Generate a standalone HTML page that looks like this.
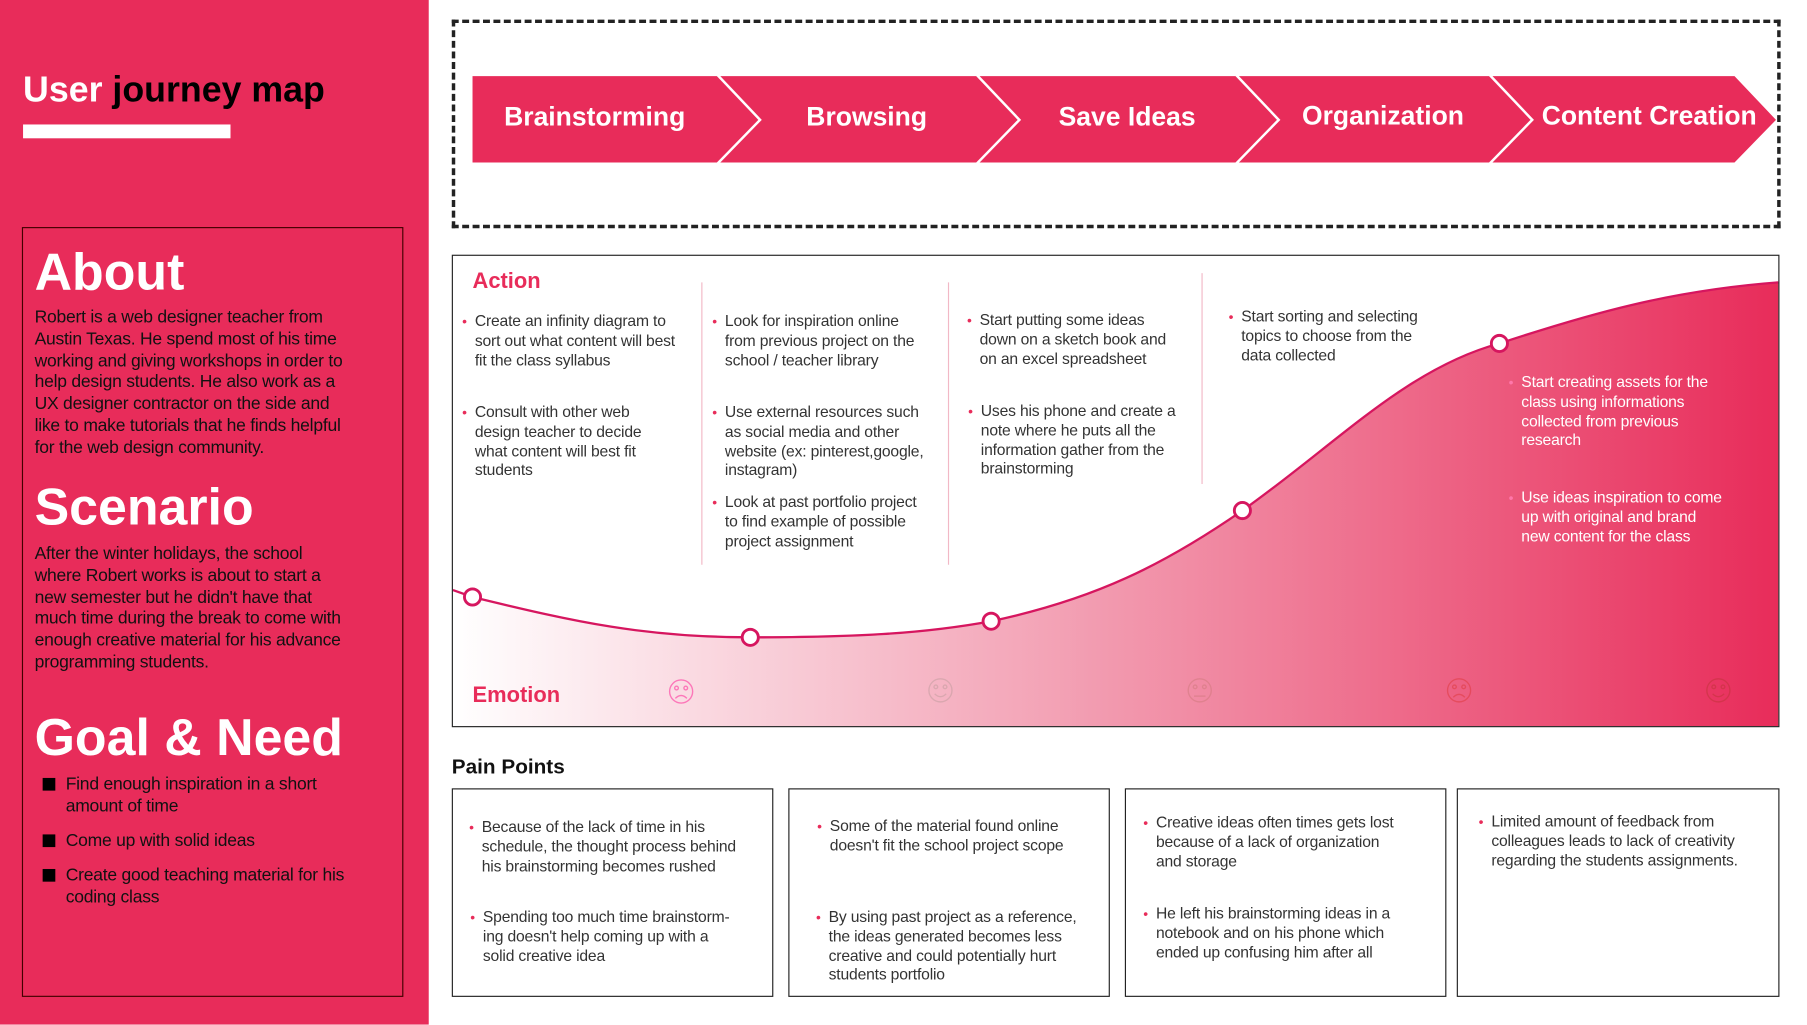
<!DOCTYPE html>
<html><head><meta charset="utf-8"><style>
html,body{margin:0;padding:0;background:#fff;overflow:hidden}
#wrap{position:absolute;left:0;top:0;width:1568px;height:889px;transform:scale(1.1525);transform-origin:0 0;font-family:"Liberation Sans",sans-serif}
.a{position:absolute;white-space:nowrap}
.lp{left:0;top:0;width:372px;height:889px;background:#E82C5A}
.body{font-size:15.2px;line-height:18.8px;color:#111;letter-spacing:-0.2px}
.h{color:#fff;font-weight:bold;font-size:45px;line-height:48px}
.t{font-size:13.6px;line-height:16.8px;color:#333;letter-spacing:-0.15px}
.t .b{position:absolute;left:-11px;color:#E82C5A;font-size:12px}
.box{border:1px solid #222;box-sizing:border-box}
.chev{color:#fff;font-weight:bold;font-size:23px;text-align:center;width:240px}
</style></head><body><div id="wrap">
<div class="a lp"></div>
<div class="a" style="left:20px;top:60px;font-size:31px;font-weight:bold;color:#fff;white-space:nowrap">User <span style="color:#000">journey map</span></div>
<div class="a" style="left:20px;top:108px;width:180px;height:12px;background:#fff"></div>
<div class="a" style="left:19px;top:197px;width:331px;height:668px;border:1px solid #400;box-sizing:border-box"></div>
<div class="a h" style="left:30px;top:212px">About</div>
<div class="a body" style="left:30px;top:267px">Robert is a web designer teacher from<br>Austin Texas. He spend most of his time<br>working and giving workshops in order to<br>help design students. He also work as a<br>UX designer contractor on the side and<br>like to make tutorials that he finds helpful<br>for the web design community.</div>
<div class="a h" style="left:30px;top:416px">Scenario</div>
<div class="a body" style="left:30px;top:472px">After the winter holidays, the school<br>where Robert works is about to start a<br>new semester but he didn't have that<br>much time during the break to come with<br>enough creative material for his advance<br>programming students.</div>
<div class="a h" style="left:30px;top:616px">Goal &amp; Need</div>
<div class="a body" style="left:57px;top:672px">Find enough inspiration in a short<br>amount of time</div>
<div class="a body" style="left:57px;top:721px">Come up with solid ideas</div>
<div class="a body" style="left:57px;top:751px">Create good teaching material for his<br>coding class</div>
<div class="a" style="left:37px;top:675px;width:11px;height:11px;background:#000"></div>
<div class="a" style="left:37px;top:724px;width:11px;height:11px;background:#000"></div>
<div class="a" style="left:37px;top:754px;width:11px;height:11px;background:#000"></div>

<div class="a" style="left:392px;top:17px;width:1153px;height:181px;border:3px dashed #222;box-sizing:border-box"></div>
<svg class="a" style="left:0;top:0" width="1568" height="889">
<g fill="#E82C5A">
<polygon points="410,66 622,66 658,104 622,141 410,141"/>
<polygon points="625,66 847,66 883,104 847,141 625,141 661,104"/>
<polygon points="850,66 1072,66 1108,104 1072,141 850,141 886,104"/>
<polygon points="1075,66 1292,66 1328,104 1292,141 1075,141 1111,104"/>
<polygon points="1295,66 1505,66 1541,104 1505,141 1295,141 1331,104"/>
</g>
<defs><linearGradient id="g" x1="393" y1="0" x2="1543" y2="0" gradientUnits="userSpaceOnUse">
<stop offset="0" stop-color="#fff"/><stop offset="0.45" stop-color="#f3a3b6"/><stop offset="1" stop-color="#E82C5A"/></linearGradient></defs>
<path d="M393,512 L410,518 C500,540 560,553 651,553 C740,553 800,550 860,539 C950,520 1010,490 1078,443 C1160,385 1220,320 1301,298 C1380,272 1450,252 1543,245 L1543,630 L393,630 Z" fill="url(#g)"/>
<path d="M393,512 L410,518 C500,540 560,553 651,553 C740,553 800,550 860,539 C950,520 1010,490 1078,443 C1160,385 1220,320 1301,298 C1380,272 1450,252 1543,245" fill="none" stroke="#d6165f" stroke-width="2"/>
<g fill="#fff" stroke="#d6165f" stroke-width="2.5">
<circle cx="410" cy="518" r="7"/><circle cx="651" cy="553" r="7"/><circle cx="860" cy="539" r="7"/><circle cx="1078" cy="443" r="7"/><circle cx="1301" cy="298" r="7"/></g>
<g stroke="#f2b8c6" stroke-width="1"><line x1="609" y1="245" x2="609" y2="490"/><line x1="823" y1="245" x2="823" y2="490"/><line x1="1043" y1="237" x2="1043" y2="420"/></g>
<g fill="none" stroke-width="1.2" opacity="0.45">
<g stroke="#f08"><circle cx="591" cy="600" r="10"/><circle cx="587" cy="597" r="1.6"/><circle cx="595" cy="597" r="1.6"/><path d="M586,606 Q591,601 596,606"/></g>
<g stroke="#b99"><circle cx="816" cy="599" r="10"/><circle cx="812" cy="596" r="1.6"/><circle cx="820" cy="596" r="1.6"/><path d="M811,602 Q816,607 821,602"/></g>
<g stroke="#c77"><circle cx="1041" cy="599" r="10"/><circle cx="1037" cy="596" r="1.6"/><circle cx="1045" cy="596" r="1.6"/><path d="M1036,604 L1046,604"/></g>
<g stroke="#d33"><circle cx="1266" cy="599" r="10"/><circle cx="1262" cy="596" r="1.6"/><circle cx="1270" cy="596" r="1.6"/><path d="M1261,605 Q1266,600 1271,605"/></g>
<g stroke="#b33"><circle cx="1491" cy="599" r="10"/><circle cx="1487" cy="596" r="1.6"/><circle cx="1495" cy="596" r="1.6"/><path d="M1486,602 Q1491,607 1496,602"/></g>
</g>
</svg>
<div class="a chev" style="left:396px;top:88px">Brainstorming</div>
<div class="a chev" style="left:632px;top:88px">Browsing</div>
<div class="a chev" style="left:858px;top:88px">Save Ideas</div>
<div class="a chev" style="left:1080px;top:87px">Organization</div>
<div class="a chev" style="left:1311px;top:87px">Content Creation</div>

<div class="a box" style="left:392px;top:221px;width:1152px;height:410px"></div>
<div class="a" style="left:410px;top:234px;color:#E82C5A;font-weight:bold;font-size:19px">Action</div>
<div class="a" style="left:410px;top:593px;color:#E82C5A;font-weight:bold;font-size:19px">Emotion</div>

<div class="a t" style="left:412px;top:271px"><span class="b">•</span>Create an infinity diagram to<br>sort out what content will best<br>fit the class syllabus</div>
<div class="a t" style="left:412px;top:350px"><span class="b">•</span>Consult with other web<br>design teacher to decide<br>what content will best fit<br>students</div>
<div class="a t" style="left:629px;top:271px"><span class="b">•</span>Look for inspiration online<br>from previous project on the<br>school / teacher library</div>
<div class="a t" style="left:629px;top:350px"><span class="b">•</span>Use external resources such<br>as social media and other<br>website (ex: pinterest,google,<br>instagram)</div>
<div class="a t" style="left:629px;top:428px"><span class="b">•</span>Look at past portfolio project<br>to find example of possible<br>project assignment</div>
<div class="a t" style="left:850px;top:270px"><span class="b">•</span>Start putting some ideas<br>down on a sketch book and<br>on an excel spreadsheet</div>
<div class="a t" style="left:851px;top:349px"><span class="b">•</span>Uses his phone and create a<br>note where he puts all the<br>information gather from the<br>brainstorming</div>
<div class="a t" style="left:1077px;top:267px"><span class="b">•</span>Start sorting and selecting<br>topics to choose from the<br>data collected</div>
<div class="a t" style="left:1320px;top:324px;color:#fff"><span class="b" style="color:#f7a">•</span>Start creating assets for the<br>class using informations<br>collected from previous<br>research</div>
<div class="a t" style="left:1320px;top:424px;color:#fff"><span class="b" style="color:#f7a">•</span>Use ideas inspiration to come<br>up with original and brand<br>new content for the class</div>

<div class="a" style="left:392px;top:655px;font-weight:bold;font-size:18px;color:#111">Pain Points</div>
<div class="a box" style="left:392px;top:684px;width:279px;height:181px"></div>
<div class="a box" style="left:684px;top:684px;width:279px;height:181px"></div>
<div class="a box" style="left:976px;top:684px;width:279px;height:181px"></div>
<div class="a box" style="left:1264px;top:684px;width:280px;height:181px"></div>
<div class="a t" style="left:418px;top:710px"><span class="b">•</span>Because of the lack of time in his<br>schedule, the thought process behind<br>his brainstorming becomes rushed</div>
<div class="a t" style="left:419px;top:788px"><span class="b">•</span>Spending too much time brainstorm-<br>ing doesn't help coming up with a<br>solid creative idea</div>
<div class="a t" style="left:720px;top:709px"><span class="b">•</span>Some of the material found online<br>doesn't fit the school project scope</div>
<div class="a t" style="left:719px;top:788px"><span class="b">•</span>By using past project as a reference,<br>the ideas generated becomes less<br>creative and could potentially hurt<br>students portfolio</div>
<div class="a t" style="left:1003px;top:706px"><span class="b">•</span>Creative ideas often times gets lost<br>because of a lack of organization<br>and storage</div>
<div class="a t" style="left:1003px;top:785px"><span class="b">•</span>He left his brainstorming ideas in a<br>notebook and on his phone which<br>ended up confusing him after all</div>
<div class="a t" style="left:1294px;top:705px"><span class="b">•</span>Limited amount of feedback from<br>colleagues leads to lack of creativity<br>regarding the students assignments.</div>
</div></body></html>
